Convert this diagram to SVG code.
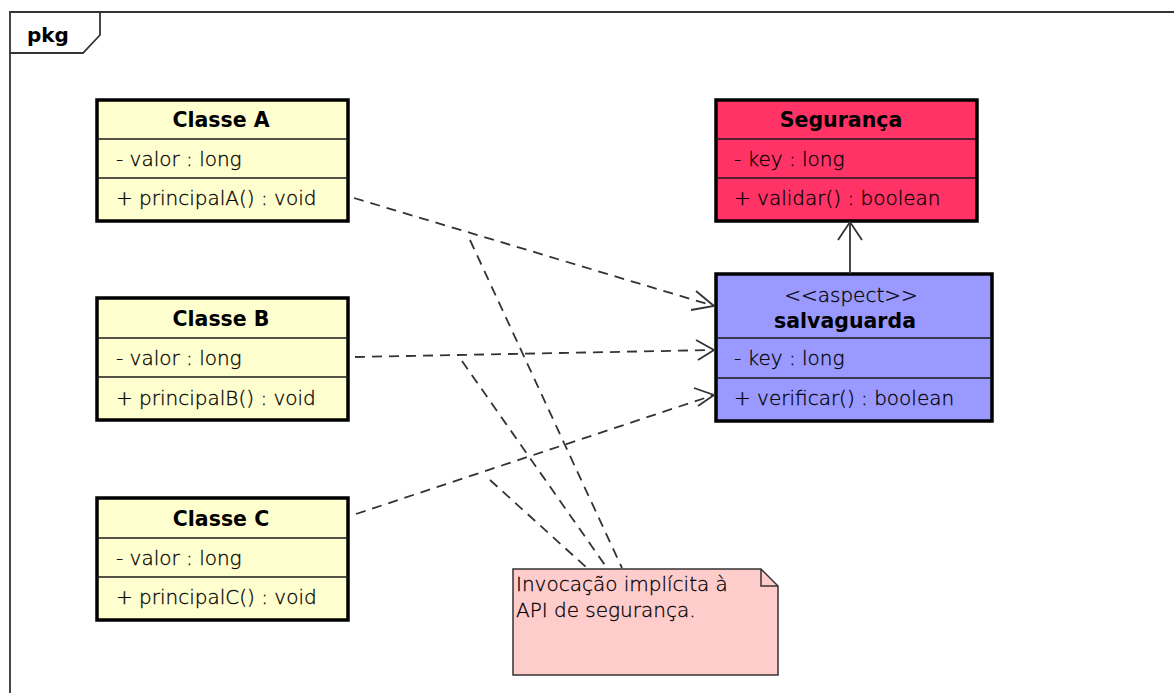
<svg xmlns="http://www.w3.org/2000/svg" width="1174" height="693" viewBox="0 0 1174 693">
  <defs>
    <style>
      text { font-family: "DejaVu Sans", Verdana, sans-serif; font-size: 20px; font-weight: 200; fill: #000; stroke: #000; stroke-width: 0.3px; }
      .title { font-weight: bold; font-size: 20.5px; text-anchor: middle; stroke: none; }
      .stereo { text-anchor: middle; }
      .box { stroke: #000; stroke-width: 3.5; }
      .sep { stroke: #181818; stroke-width: 1.5; }
      .cls { fill: #FEFECE; }
      .seg { fill: #FF3366; }
      .asp { fill: #9999FF; }
      .dep { fill: none; stroke: #333; stroke-width: 1.8; stroke-dasharray: 10 7; }
      .head { fill: none; stroke: #333; stroke-width: 1.8; }
      .frame { fill: none; stroke: #333; stroke-width: 1.8; }
    </style>
  </defs>

  <!-- package frame -->
  <g id="pkg">
    <path class="frame" d="M10,700 L10,12 L1180,12"/>
    <path class="frame" d="M10,53 L83,53 L100,35 L100,12"/>
    <text x="27" y="42" style="font-weight:bold;stroke:none">pkg</text>
  </g>

  <!-- classes -->
  <g id="classeA">
    <rect class="box cls" x="97" y="100" width="251" height="121"/>
    <line class="sep" x1="97" y1="139" x2="348" y2="139"/>
    <line class="sep" x1="97" y1="178" x2="348" y2="178"/>
    <text class="title" x="221" y="127">Classe A</text>
    <text x="116" y="166">- valor : long</text>
    <text x="116" y="205">+ principalA() : void</text>
  </g>

  <g id="classeB">
    <rect class="box cls" x="97" y="298" width="251" height="122"/>
    <line class="sep" x1="97" y1="338" x2="348" y2="338"/>
    <line class="sep" x1="97" y1="377" x2="348" y2="377"/>
    <text class="title" x="221" y="326">Classe B</text>
    <text x="116" y="365">- valor : long</text>
    <text x="116" y="405">+ principalB() : void</text>
  </g>

  <g id="classeC">
    <rect class="box cls" x="97" y="498" width="251" height="122"/>
    <line class="sep" x1="97" y1="538" x2="348" y2="538"/>
    <line class="sep" x1="97" y1="577" x2="348" y2="577"/>
    <text class="title" x="221" y="526">Classe C</text>
    <text x="116" y="565">- valor : long</text>
    <text x="116" y="604">+ principalC() : void</text>
  </g>

  <g id="seguranca">
    <rect class="box seg" x="716" y="100" width="261" height="121"/>
    <line class="sep" x1="716" y1="139" x2="977" y2="139"/>
    <line class="sep" x1="716" y1="178" x2="977" y2="178"/>
    <text class="title" x="841" y="127">Segurança</text>
    <text x="734" y="166">- key : long</text>
    <text x="734" y="205">+ validar() : boolean</text>
  </g>

  <g id="salvaguarda">
    <rect class="box asp" x="716" y="274" width="276" height="147"/>
    <line class="sep" x1="716" y1="338" x2="992" y2="338"/>
    <line class="sep" x1="716" y1="378" x2="992" y2="378"/>
    <text class="stereo" x="851" y="302">&lt;&lt;aspect&gt;&gt;</text>
    <text class="title" x="845" y="328">salvaguarda</text>
    <text x="734" y="365">- key : long</text>
    <text x="734" y="405">+ verificar() : boolean</text>
  </g>

  <g id="nota">
    <path d="M513,569 L761,569 L778,586 L778,675 L513,675 Z" fill="#FFCCCC" stroke="#333" stroke-width="1.5"/>
    <path d="M761,569 L761,586 L778,586" fill="none" stroke="#333" stroke-width="1.5"/>
    <text x="516" y="591">Invocação implícita à</text>
    <text x="516" y="617">API de segurança.</text>
  </g>

  <!-- connectors -->
  <g id="connectors">
    <path class="dep" d="M354,198 L714,306"/>
    <path class="head" d="M696,291 L714,306 L691,310"/>
    <path class="dep" d="M355,357 L714,350"/>
    <path class="head" d="M696,340 L714,350 L698,360"/>
    <path class="dep" d="M356,514 L714,395"/>
    <path class="head" d="M694,388 L714,395 L698,406"/>
    <line x1="850" y1="274" x2="850" y2="224" stroke="#333" stroke-width="1.8"/>
    <path class="head" d="M838,240 L850,222 L862,240"/>
    <path class="dep" d="M470,240 L622,568"/>
    <path class="dep" d="M462,361 L607,568"/>
    <path class="dep" d="M490,480 L587,568"/>
  </g>
</svg>
